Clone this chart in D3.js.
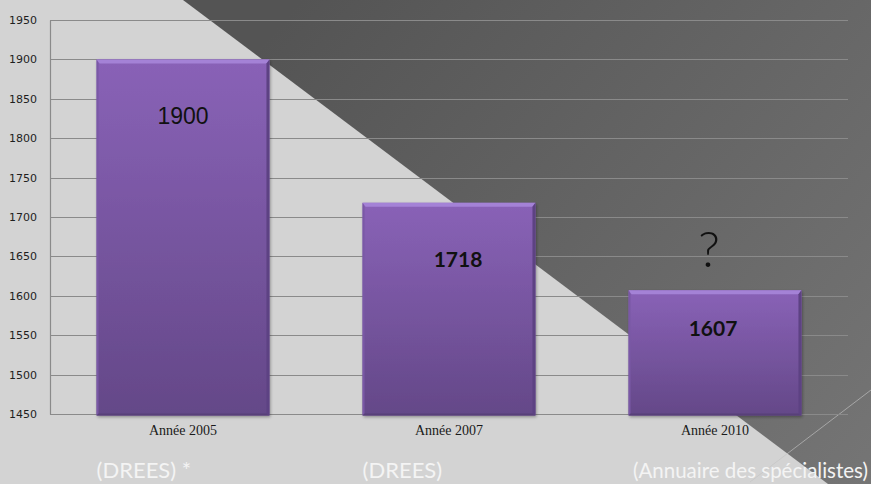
<!DOCTYPE html>
<html><head><meta charset="utf-8">
<script src="https://cdn.jsdelivr.net/npm/d3@7"></script>
<style>html,body{margin:0;padding:0;background:#d3d3d3;}svg{display:block;}</style>
</head><body>
<svg id="c" width="871" height="484"></svg>
<script>
const categories = ["Année 2005", "Année 2007", "Année 2010"];
const values = [1900, 1718, 1607];
const valueLabels = ["1900", "1718", "1607"];
const sources = ["(DREES) *", "(DREES)", "(Annuaire des spécialistes)"];
const yTicks = [1450, 1500, 1550, 1600, 1650, 1700, 1750, 1800, 1850, 1900, 1950];
const yDomain = [1450, 1950];

const W = 871, H = 484;
const svg = d3.select("#c");
const defs = svg.append("defs");

// background
const bgG = defs.append("linearGradient").attr("id","darkbg")
  .attr("gradientUnits","userSpaceOnUse").attr("x1",300).attr("y1",0).attr("x2",871).attr("y2",484);
bgG.append("stop").attr("offset","0").attr("stop-color","#545454");
bgG.append("stop").attr("offset","1").attr("stop-color","#757575");
svg.append("rect").attr("width",W).attr("height",H).attr("fill","#d3d3d3");
svg.append("path").attr("d","M183,0 L871,0 L871,484 L828,484 Z").attr("fill","url(#darkbg)");
svg.append("line").attr("x1",750).attr("y1",482).attr("x2",871).attr("y2",390)
  .attr("stroke","#c4c4c4").attr("stroke-width",0.8).attr("opacity",0.8);

// bar gradient
const barG = defs.append("linearGradient").attr("id","barfill").attr("x1",0).attr("y1",0).attr("x2",0).attr("y2",1);
barG.append("stop").attr("offset","0").attr("stop-color","#8962b7");
barG.append("stop").attr("offset","1").attr("stop-color","#644888");
const f = defs.append("filter").attr("id","shadow").attr("x","-10%").attr("y","-10%").attr("width","130%").attr("height","130%");
f.append("feDropShadow").attr("dx",1).attr("dy",1.5).attr("stdDeviation",1.5).attr("flood-color","#000").attr("flood-opacity",0.35);

const x = d3.scaleBand().domain(categories).range([50, 848]).paddingInner(0.35).paddingOuter(0.175);
const y = d3.scaleLinear().domain(yDomain).range([414, 20]);

// gridlines
svg.append("g").selectAll("line").data(yTicks).join("line")
  .attr("x1",50).attr("x2",848)
  .attr("y1",d=>Math.round(y(d))+0.5).attr("y2",d=>Math.round(y(d))+0.5)
  .attr("stroke","#8a8a8a").attr("stroke-width",1.2);

// y axis
const yAxis = svg.append("g").attr("transform","translate(50,0)")
  .call(d3.axisLeft(y).tickValues(yTicks).tickSize(0).tickPadding(13).tickFormat(d3.format("d")));
yAxis.select(".domain").attr("stroke","#8a8a8a").attr("stroke-width",1.2);
yAxis.selectAll("text").attr("font-family","'DejaVu Sans', Verdana, sans-serif").attr("font-size",11).attr("fill","#1e1e1e");

// bars
const bars = svg.append("g").selectAll("g").data(values).join("g");
bars.append("rect")
  .attr("x",(d,i)=>x(categories[i])).attr("y",d=>y(d))
  .attr("width",x.bandwidth()).attr("height",d=>y(yDomain[0])-y(d)+1.5)
  .attr("fill","url(#barfill)").attr("filter","url(#shadow)");
// top bevel
bars.append("path").attr("d",(d,i)=>{
  const x0=x(categories[i]), x1=x0+x.bandwidth(), t=y(d);
  return `M${x0},${t} L${x1},${t} L${x1-3},${t+4} L${x0+3},${t+4} Z`;
}).attr("fill","#a482d6");
// right edge
bars.append("path").attr("d",(d,i)=>{
  const x1=x(categories[i])+x.bandwidth(), t=y(d), b=y(yDomain[0])+1.5;
  return `M${x1},${t} L${x1},${b} L${x1-3},${b-2} L${x1-3},${t+4} Z`;
}).attr("fill","#5d4283");
// left edge
bars.append("path").attr("d",(d,i)=>{
  const x0=x(categories[i]), t=y(d), b=y(yDomain[0])+1.5;
  return `M${x0},${t} L${x0},${b} L${x0+2},${b-2} L${x0+2},${t+4} Z`;
}).attr("fill","#7a58a6");
// bottom edge
bars.append("path").attr("d",(d,i)=>{
  const x0=x(categories[i]), x1=x0+x.bandwidth(), b=y(yDomain[0])+1.5;
  return `M${x0},${b} L${x1},${b} L${x1-3},${b-2} L${x0+2},${b-2} Z`;
}).attr("fill","#584079");

// value labels
const labelDy = [65, 64, 46];
const labelDx = [0, 9, -2];
bars.append("text")
  .attr("x",(d,i)=>x(categories[i])+x.bandwidth()/2+labelDx[i])
  .attr("y",(d,i)=>y(d)+labelDy[i])
  .attr("text-anchor","middle")
  .attr("font-family",(d,i)=> i===0 ? "'Liberation Sans', Arial, sans-serif" : "Lato, sans-serif")
  .attr("font-weight",(d,i)=> i===0 ? "normal" : "bold")
  .attr("font-size",(d,i)=> i===0 ? 23 : 21)
  .attr("fill","#111")
  .text((d,i)=>valueLabels[i]);

// question mark
svg.append("text").attr("x",x(categories[2])+x.bandwidth()/2-6).attr("y",y(values[2])-23)
  .attr("text-anchor","middle").attr("font-family","Lato, sans-serif").attr("font-weight",300).attr("font-size",50)
  .attr("fill","#111").text("?");

// category labels
svg.append("g").selectAll("text").data(categories).join("text")
  .attr("x",d=>x(d)+x.bandwidth()/2).attr("y",435)
  .attr("text-anchor","middle").attr("font-family","'Liberation Serif', 'Times New Roman', serif")
  .attr("font-size",14).attr("fill","#1a1a1a").text(d=>d);

// source labels
svg.append("g").selectAll("text").data(sources).join("text")
  .attr("x",(d,i)=> i===2 ? 868 : x(categories[i]))
  .attr("text-anchor",(d,i)=> i===2 ? "end" : "start")
  .attr("y",478)
  .attr("font-family","Lato, sans-serif").attr("font-size",(d,i)=> i===2 ? 20.5 : 22)
  .attr("fill","#f4f4f4").text(d=>d);
</script>
</body></html>
